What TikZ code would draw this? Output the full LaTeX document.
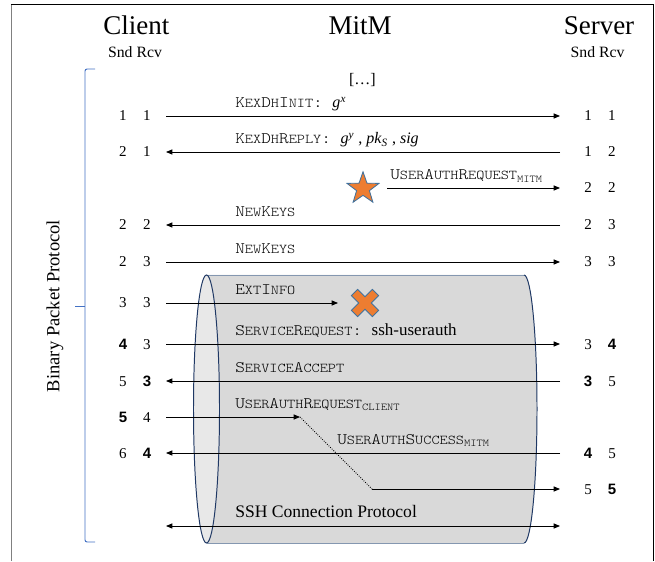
\documentclass[tikz,border=0pt]{standalone}
\usepackage{fontspec}
\setmainfont{Liberation Serif}
\setsansfont{Liberation Sans}
\newfontfamily\msgfamily{lmmonolt10-regular.otf}[FakeStretch=1.15]
\usetikzlibrary{arrows.meta,shapes.geometric}

\definecolor{mitmorange}{RGB}{237,125,49}
\definecolor{mitmblue}{RGB}{65,113,156}
\definecolor{bracketblue}{RGB}{68,114,196}
\definecolor{cylfill}{RGB}{217,217,217}
\definecolor{cyllight}{RGB}{232,232,232}
\definecolor{cylline}{RGB}{31,56,100}
\definecolor{cyledge}{RGB}{132,151,176}

% small caps by hand, for the message names
\newcommand{\smc}[1]{{\fontsize{9.6}{10}\selectfont #1}}
\newcommand{\msgsub}[1]{\raisebox{-0.4ex}{\fontsize{7.4}{8}\selectfont #1}}
\newcommand{\bnum}[1]{{\sffamily\bfseries #1}}
\newcommand{\pair}[2]{\makebox[0.6cm]{#1}\makebox[0.6cm]{#2}}
\newcommand{\val}[1]{{\rmfamily\fontsize{11.4}{12}\selectfont #1}}

\tikzset{
  msg/.style={line width=0.6pt, -{Triangle[length=4.5pt,width=3.6pt]}},
  both/.style={line width=0.6pt, {Triangle[length=4.5pt,width=3.6pt]}-{Triangle[length=4.5pt,width=3.6pt]}},
  lbl/.style={anchor=base west, inner sep=0pt, font=\msgfamily\fontsize{11.4}{12}\selectfont},
  cnt/.style={inner sep=0pt, font=\fontsize{10.7}{12}\selectfont},
  hdr/.style={anchor=base, inner sep=0pt, font=\fontsize{19.2}{22}\selectfont},
  sndrcv/.style={anchor=base, inner sep=0pt, font=\fontsize{11.2}{12}\selectfont},
  attack/.style={fill=mitmorange, draw=mitmblue, line width=0.6pt}
}

\begin{document}
\begin{tikzpicture}
\useasboundingbox (0,0) rectangle (16.375,14.025);

% frame
\draw [gray] (0.275,0) -- (0.275,13.925);
\draw (0.275,13.925) -- (16.325,13.925) -- (16.325,0);

% parties
\node [hdr] (client) at (3.41,13.15) {Client};
\node [hdr] (mitm) at (9.0,13.15) {MitM};
\node [hdr] (server) at (14.975,13.15) {Server};
\node [sndrcv] (csndrcv) at (3.375,12.575) {Snd Rcv};
\node [sndrcv] (ssndrcv) at (14.94,12.575) {Snd Rcv};
\node [inner sep=0pt, font=\fontsize{11.4}{12}\selectfont] (skip) at (9.06,12.03) {[\dots]};

% binary packet protocol bracket
\draw [bracketblue, line width=0.7pt, rounded corners=1.5pt] (2.375,12.3) -- (2.125,12.3) -- (2.125,0.475) -- (2.375,0.475);
\draw [bracketblue, line width=0.7pt] (2.125,6.375) -- (1.875,6.375);
\node [rotate=90, inner sep=0pt, font=\fontsize{13.2}{15}\selectfont] (bpp) at (1.375,6.375) {Binary Packet Protocol};

% tunnel
\fill [cylfill] (5.1625,7.15) -- (13.1,7.15) arc [start angle=90, end angle=-90, x radius=0.325, y radius=3.35] -- (5.1625,0.45) -- cycle;
\draw [cyledge, line width=0.7pt] (5.1625,7.15) -- (13.1,7.15);
\draw [cyledge, line width=0.7pt] (5.1625,0.45) -- (13.1,0.45);
\draw [cylline, line width=0.7pt] (13.1,7.15) arc [start angle=90, end angle=-90, x radius=0.325, y radius=3.35];
\draw [cylline, fill=cyllight, line width=0.7pt] (5.1625,3.8) ellipse [x radius=0.325, y radius=3.35];

% counters
\node [cnt] (cn1) at (3.375,11.125) {\pair{1}{1}};
\node [cnt] (sn1) at (15.0,11.125) {\pair{1}{1}};
\node [cnt] (cn2) at (3.375,10.225) {\pair{2}{1}};
\node [cnt] (sn2) at (15.0,10.225) {\pair{1}{2}};
\node [cnt] (sn3) at (15.0,9.325) {\pair{2}{2}};
\node [cnt] (cn4) at (3.375,8.4) {\pair{2}{2}};
\node [cnt] (sn4) at (15.0,8.4) {\pair{2}{3}};
\node [cnt] (cn5) at (3.375,7.475) {\pair{2}{3}};
\node [cnt] (sn5) at (15.0,7.475) {\pair{3}{3}};
\node [cnt] (cn6) at (3.375,6.45) {\pair{3}{3}};
\node [cnt] (cn7) at (3.375,5.425) {\pair{\bnum{4}}{3}};
\node [cnt] (sn7) at (15.0,5.425) {\pair{3}{\bnum{4}}};
\node [cnt] (cn8) at (3.375,4.5) {\pair{5}{\bnum{3}}};
\node [cnt] (sn8) at (15.0,4.5) {\pair{\bnum{3}}{5}};
\node [cnt] (cn9) at (3.375,3.6) {\pair{\bnum{5}}{4}};
\node [cnt] (cn10) at (3.375,2.7) {\pair{6}{\bnum{4}}};
\node [cnt] (sn10) at (15.0,2.7) {\pair{\bnum{4}}{5}};
\node [cnt] (sn11) at (15.0,1.8) {\pair{5}{\bnum{5}}};

% arrow ends
\coordinate (c1) at (4.15,11.125);  \coordinate (s1) at (14,11.125);
\coordinate (c2) at (4.15,10.225);  \coordinate (s2) at (14,10.225);
\coordinate (m3) at (9.675,9.325);  \coordinate (s3) at (14,9.325);
\coordinate (c4) at (4.15,8.4);     \coordinate (s4) at (14,8.4);
\coordinate (c5) at (4.15,7.475);   \coordinate (s5) at (14,7.475);
\coordinate (c6) at (4.15,6.45);    \coordinate (m6) at (8.45,6.45);
\coordinate (c7) at (4.15,5.425);   \coordinate (s7) at (14,5.425);
\coordinate (c8) at (4.15,4.5);     \coordinate (s8) at (14,4.5);
\coordinate (c9) at (4.15,3.6);     \coordinate (m9) at (7.5,3.6);
\coordinate (c10) at (4.15,2.7);    \coordinate (s10) at (14,2.7);
\coordinate (m11) at (9.3,1.8);     \coordinate (s11) at (14,1.8);
\coordinate (c12) at (4.15,0.875);  \coordinate (s12) at (14,0.875);

% messages
\draw [msg] (c1) -- (s1);
\node [lbl] (kexinit) at (5.875,11.33) {K\smc{EX}D\smc{H}I\smc{NIT}:\hspace{0.6em}\val{\textit{g}\textsuperscript{\textit{x}}}};

\draw [msg] (s2) -- (c2);
\node [lbl] (kexreply) at (5.875,10.43) {K\smc{EX}D\smc{H}R\smc{EPLY}:\hspace{0.6em}\val{\textit{g}\textsuperscript{\textit{y}} , \textit{pk}\textsubscript{\textit{S}} , \textit{sig}}};

\node [star, star points=5, star point ratio=2.5, minimum size=0.84cm, inner sep=0pt, attack] (star) at (9.075,9.31) {};
\draw [msg] (m3) -- (s3);
\node [lbl] (uarmitm) at (9.75,9.53) {U\smc{SER}A\smc{UTH}R\smc{EQUEST}\msgsub{MITM}};

\draw [msg] (s4) -- (c4);
\node [lbl] (newkeyss) at (5.875,8.62) {N\smc{EW}K\smc{EYS}};

\draw [msg] (c5) -- (s5);
\node [lbl] (newkeysc) at (5.875,7.695) {N\smc{EW}K\smc{EYS}};

\draw [msg] (c6) -- (m6);
\node [lbl] (extinfo) at (5.875,6.67) {E\smc{XT}I\smc{NFO}};
\begin{scope}[shift={(9.125,6.45)}, rotate=45]
  \filldraw [attack] (0.11,0.11) -- (0.11,0.37) -- (-0.11,0.37) -- (-0.11,0.11) -- (-0.37,0.11) -- (-0.37,-0.11)
    -- (-0.11,-0.11) -- (-0.11,-0.37) -- (0.11,-0.37) -- (0.11,-0.11) -- (0.37,-0.11) -- (0.37,0.11) -- cycle;
\end{scope}

\draw [msg] (c7) -- (s7);
\node [lbl] (servreq) at (5.875,5.645) {S\smc{ERVICE}R\smc{EQUEST}:\hspace{0.6em}{\rmfamily\fontsize{12.1}{14}\selectfont ssh-userauth}};

\draw [msg] (s8) -- (c8);
\node [lbl] (servacc) at (5.875,4.72) {S\smc{ERVICE}A\smc{CCEPT}};

\draw [msg] (c9) -- (m9);
\draw [densely dotted, line width=0.6pt] (m9) -- (m11);
\draw [msg] (m11) -- (s11);
\node [lbl] (uarclient) at (5.875,3.82) {U\smc{SER}A\smc{UTH}R\smc{EQUEST}\msgsub{CLIENT}};

\draw [msg] (s10) -- (c10);
\node [lbl] (uasmitm) at (8.425,2.92) {U\smc{SER}A\smc{UTH}S\smc{UCCESS}\msgsub{MITM}};

\draw [both] (c12) -- (s12);
\node [anchor=base west, inner sep=0pt, font=\fontsize{12.5}{14}\selectfont] (conn) at (5.875,1.1) {SSH Connection Protocol};

\end{tikzpicture}
\end{document}
